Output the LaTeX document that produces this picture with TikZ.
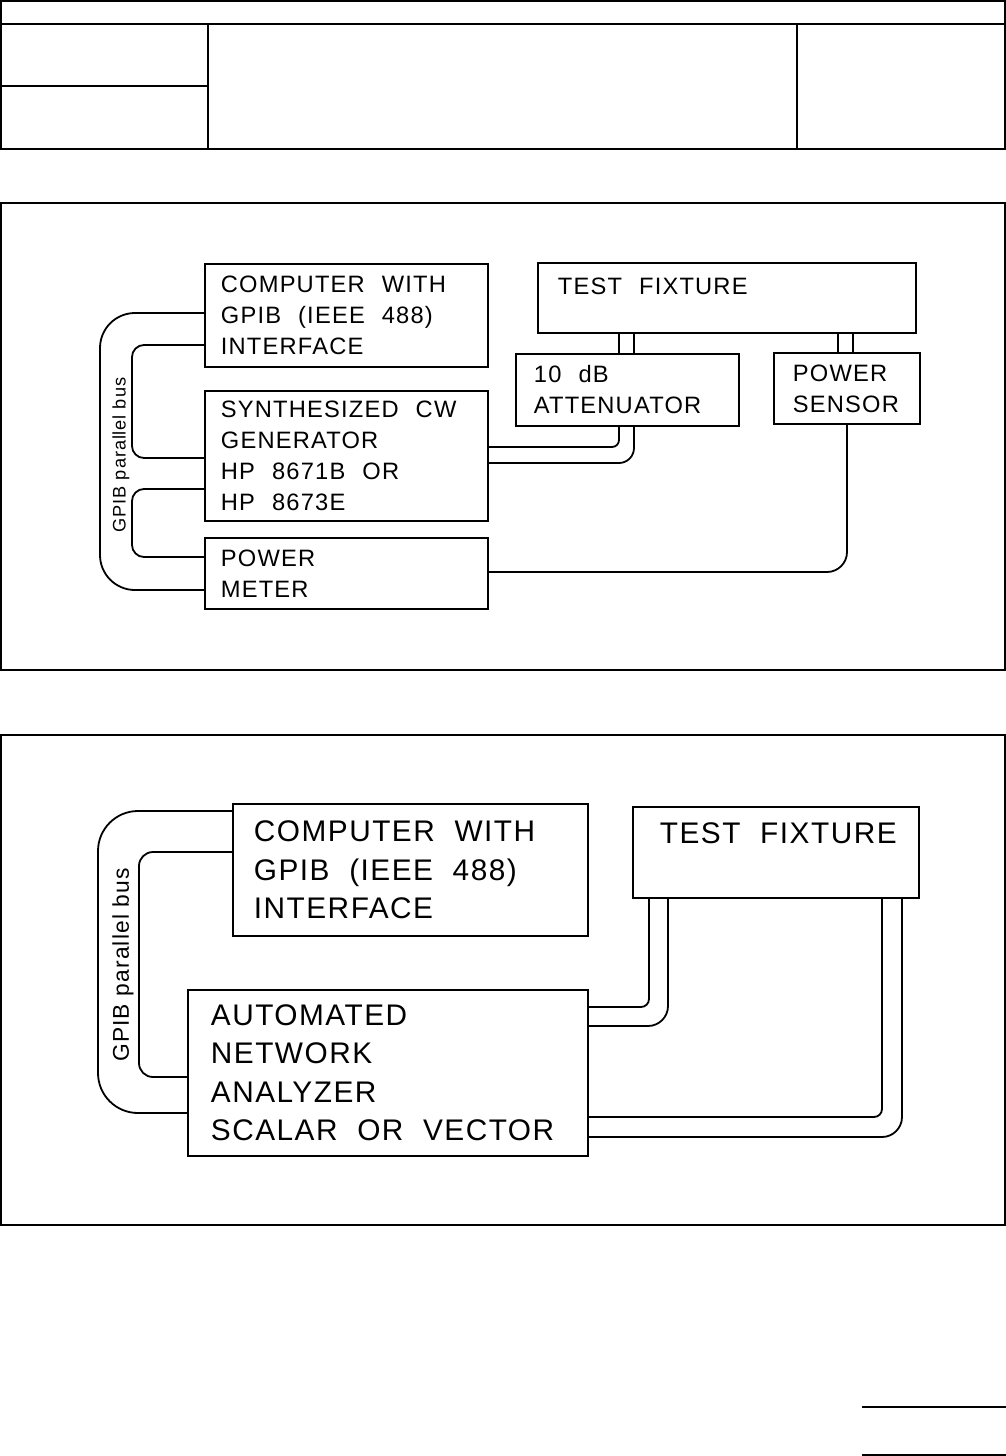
\documentclass[tikz,border=0pt]{standalone}
\usepackage{fontspec}
\newfontfamily\labfont[LetterSpace=5]{Liberation Sans}
\newfontfamily\busfont[LetterSpace=5]{Liberation Sans}
\newcommand\fontA{\labfont\fontsize{23.7}{31}\selectfont\spaceskip 0.72em plus 0.1em\relax}
\newcommand\fontB{\labfont\fontsize{29.8}{38.5}\selectfont\spaceskip 0.66em plus 0.1em\relax}
\begin{document}
\begin{tikzpicture}[x=1pt,y=-1pt,line width=1.8pt,
  unit/.style={draw, rectangle, inner sep=0pt, anchor=north west, line width=1.8pt},
  txtA/.style={inner sep=0pt, align=left, font=\fontA},
  txtB/.style={inner sep=0pt, align=left, font=\fontB},
  busA/.style={inner sep=0pt, rotate=90, font=\busfont\fontsize{18.2}{20}\selectfont},
  busB/.style={inner sep=0pt, rotate=90, font=\busfont\fontsize{22.8}{24}\selectfont},
  wire/.style={draw, line width=1.8pt, line join=round},
  rule/.style={line width=1.8pt}]
\useasboundingbox (0,0) rectangle (1006,1456);

% header table
\draw[rule] (1,1) rectangle (1005,149);
\draw[rule] (1,24) -- (1005,24);
\draw[rule] (208,24) -- (208,149);
\draw[rule] (797,24) -- (797,149);
\draw[rule] (1,86) -- (208,86);

% frames
\draw[rule] (1,203) rectangle (1005,670);
\draw[rule] (1,735) rectangle (1005,1225);

% footer rules
\draw[rule] (862,1407) -- (1006,1407);
\draw[rule] (862,1455) -- (1006,1455);

% ---------- upper diagram ----------
\node[unit, minimum width=283, minimum height=103] (comp) at (204,263) {};
\node[txtA, anchor=west] (compT) at ([xshift=16pt]comp.west) {COMPUTER WITH\\GPIB (IEEE 488)\\INTERFACE};
\node[unit, minimum width=283, minimum height=130] (syn) at (204,390) {};
\node[txtA, anchor=west] (synT) at ([xshift=16pt]syn.west) {SYNTHESIZED CW\\GENERATOR\\HP 8671B OR\\HP 8673E};
\node[unit, minimum width=283, minimum height=71] (pm) at (204,537) {};
\node[txtA, anchor=west] (pmT) at ([xshift=16pt]pm.west) {POWER\\METER};
\node[unit, minimum width=378, minimum height=70] (fix) at (537,262) {};
\node[txtA, anchor=north west] (fixT) at ([xshift=20pt,yshift=-15pt]fix.north west) {TEST FIXTURE};
\node[unit, minimum width=223, minimum height=72] (att) at (515,353) {};
\node[txtA, anchor=west] (attT) at ([xshift=18pt]att.west) {10 dB\\ATTENUATOR};
\node[unit, minimum width=146, minimum height=71] (sen) at (773,352) {};
\node[txtA, anchor=west] (senT) at ([xshift=19pt]sen.west) {POWER\\SENSOR};

\node[busA] (busTop) at (121,455) {GPIB parallel bus};

% GPIB bus
\draw[wire, rounded corners=35pt] (comp.west |- 0,313) -- (100,313) -- (100,590) -- (pm.west |- 0,590);
\draw[wire, rounded corners=12pt] (comp.west |- 0,345) -- (132,345) -- (132,458) -- (syn.west |- 0,458);
\draw[wire, rounded corners=12pt] (syn.west |- 0,489) -- (132,489) -- (132,557) -- (pm.west |- 0,557);

% RF connections
\draw[wire] (fix.south -| 619,0) -- (att.north -| 619,0);
\draw[wire] (fix.south -| 634,0) -- (att.north -| 634,0);
\draw[wire] (fix.south -| 838,0) -- (sen.north -| 838,0);
\draw[wire] (fix.south -| 853,0) -- (sen.north -| 853,0);
\draw[wire, rounded corners=7pt] (att.south -| 619,0) -- (619,447) -- (syn.east |- 0,447);
\draw[wire, rounded corners=15pt] (att.south -| 634,0) -- (634,463) -- (syn.east |- 0,463);
\draw[wire, rounded corners=20pt] (sen.south -| 847,0) -- (847,572) -- (pm.east |- 0,572);

% ---------- lower diagram ----------
\node[unit, minimum width=355, minimum height=132] (bcomp) at (232,803) {};
\node[txtB, anchor=west] (bcompT) at ([xshift=21pt]bcomp.west) {COMPUTER WITH\\GPIB (IEEE 488)\\INTERFACE};
\node[unit, minimum width=400, minimum height=166] (ana) at (187,989) {};
\node[txtB, anchor=west] (anaT) at ([xshift=23pt]ana.west) {AUTOMATED\\NETWORK\\ANALYZER\\SCALAR OR VECTOR};
\node[unit, minimum width=286, minimum height=91] (bfix) at (632,806) {};
\node[txtB, anchor=north west] (bfixT) at ([xshift=27pt,yshift=-16pt]bfix.north west) {TEST FIXTURE};

\node[busB] (busBot) at (123,965) {GPIB parallel bus};

\draw[wire, rounded corners=40pt] (bcomp.west |- 0,811) -- (98,811) -- (98,1113) -- (ana.west |- 0,1113);
\draw[wire, rounded corners=14pt] (bcomp.west |- 0,852) -- (139,852) -- (139,1077) -- (ana.west |- 0,1077);

\draw[wire, rounded corners=8pt] (bfix.south -| 649,0) -- (649,1007) -- (ana.east |- 0,1007);
\draw[wire, rounded corners=20pt] (bfix.south -| 668,0) -- (668,1026) -- (ana.east |- 0,1026);
\draw[wire, rounded corners=8pt] (bfix.south -| 882,0) -- (882,1117) -- (ana.east |- 0,1117);
\draw[wire, rounded corners=20pt] (bfix.south -| 902,0) -- (902,1137) -- (ana.east |- 0,1137);
\end{tikzpicture}
\end{document}
